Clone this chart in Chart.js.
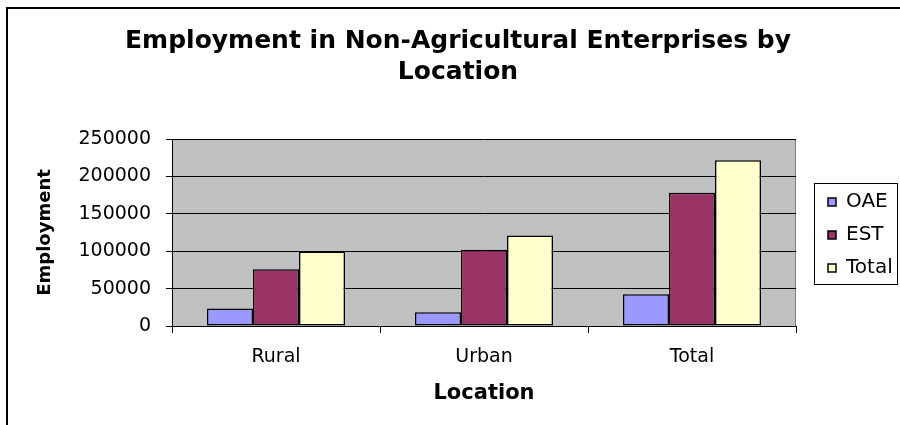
<!DOCTYPE html>
<html>
<head>
<meta charset="utf-8">
<script src="https://cdn.jsdelivr.net/npm/chart.js@4"></script>
<style>
  html, body { margin: 0; padding: 0; background: #fff; overflow: hidden; }
  #wrap { position: relative; width: 900px; height: 425px; }
  #myChart { position: absolute; left: 0; top: 0; }
  #frame { position: absolute; left: 6px; top: 7px; width: 1000px; height: 1000px; border: 2px solid #000; pointer-events: none; }
</style>
</head>
<body>
<div id="wrap">
  <canvas id="myChart" width="900" height="425"></canvas>
  <div id="frame"></div>
</div>
<script>
const locations = ['Rural', 'Urban', 'Total'];
const oaeValues = [23300, 18400, 42500];
const estValues = [75800, 101800, 178000];
const totalValues = [99600, 121100, 221500];
const yTicks = [0, 50000, 100000, 150000, 200000, 250000];

Chart.defaults.font.family = "'DejaVu Sans', sans-serif";
Chart.defaults.color = '#000';

// grey plot area like the old excel charts
const plotBg = {
  id: 'plotBg',
  beforeDraw: (chart) => {
    const {ctx, chartArea: a} = chart;
    ctx.save();
    ctx.fillStyle = '#C0C0C0';
    ctx.fillRect(a.left, a.top, a.width, a.height);
    ctx.strokeStyle = '#808080';
    ctx.lineWidth = 1;
    ctx.beginPath();
    ctx.moveTo(a.right - 0.5, a.top);
    ctx.lineTo(a.right - 0.5, a.bottom);
    ctx.stroke();
    ctx.restore();
  }
};

// box round the legend
const legendFrame = {
  id: 'legendFrame',
  afterDraw: (chart) => {
    const lg = chart.legend;
    const boxes = lg.legendHitBoxes;
    if (!boxes || !boxes.length) return;
    const first = boxes[0];
    const last = boxes[boxes.length - 1];
    const x1 = Math.round(first.left) - 14 + 0.5;
    const y1 = Math.round(first.top) - 9 + 0.5;
    const x2 = Math.round(lg.right) - 3 + 0.5;
    const y2 = Math.round(last.top + last.height) + 6 + 0.5;
    const ctx = chart.ctx;
    ctx.save();
    ctx.strokeStyle = '#000';
    ctx.lineWidth = 1;
    ctx.strokeRect(x1, y1, x2 - x1, y2 - y1);
    ctx.restore();
  }
};

const barStyle = { borderColor: '#000', borderWidth: 1.5, borderSkipped: false, categoryPercentage: 138 / 208, barPercentage: 1.0 };

new Chart(document.getElementById('myChart'), {
  type: 'bar',
  data: {
    labels: locations,
    datasets: [
      { label: 'OAE', data: oaeValues, backgroundColor: '#9999FF', ...barStyle },
      { label: 'EST', data: estValues, backgroundColor: '#993366', ...barStyle },
      { label: 'Total', data: totalValues, backgroundColor: '#FFFFCC', ...barStyle }
    ]
  },
  options: {
    responsive: false,
    animation: false,
    layout: { padding: { left: 16 } },
    scales: {
      x: {
        ticks: { color: '#000', font: { size: 19 }, padding: 13 },
        grid: { drawOnChartArea: false, offset: true, color: '#000', tickColor: '#000', tickLength: 7 },
        border: { color: '#000' },
        title: { display: true, text: 'Location', color: '#000', font: { size: 21, weight: 'bold' }, padding: { top: 0, bottom: 19 } },
        afterFit: (s) => { s.height = 99; }
      },
      y: {
        min: yTicks[0],
        max: yTicks[yTicks.length - 1],
        afterBuildTicks: (s) => { s.ticks = yTicks.map(v => ({ value: v })); },
        ticks: { color: '#000', font: { size: 19 }, padding: 15, callback: (v) => String(v) },
        grid: { color: '#000', tickColor: '#000', tickLength: 6 },
        border: { color: '#000' },
        title: { display: true, text: 'Employment', color: '#000', font: { size: 18, weight: 'bold' }, padding: { top: 19, bottom: 0 } },
        afterFit: (s) => { s.width = 156; }
      },
      y2: {
        position: 'right',
        grid: { display: false },
        ticks: { display: false },
        border: { display: false },
        afterFit: (s) => { s.width = 19; }
      }
    },
    plugins: {
      title: {
        display: true,
        text: ['Employment in Non-Agricultural Enterprises by', 'Location'],
        color: '#000',
        font: { size: 25, weight: 'bold', lineHeight: 1.24 },
        padding: { top: 26, bottom: 51 }
      },
      legend: {
        position: 'right',
        fullSize: false,
        align: 'center',
        maxWidth: 85,
        // empty title, only nudges the items down a little
        title: { display: true, text: ' ', font: { size: 4 }, padding: 0 },
        labels: { color: '#000', font: { size: 20 }, boxWidth: 8, boxHeight: 8, padding: 13 }
      },
      tooltip: { enabled: false }
    }
  },
  plugins: [plotBg, legendFrame]
});
</script>
</body>
</html>
